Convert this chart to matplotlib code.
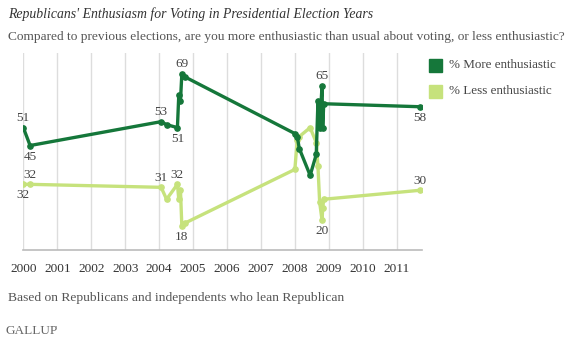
import matplotlib.pyplot as plt

# Survey dates (decimal years) and values
dates = [2000.0, 2000.2,
         2004.06, 2004.22, 2004.54, 2004.58, 2004.63, 2004.67, 2004.76,
         2008.0, 2008.07, 2008.13, 2008.45, 2008.63, 2008.68, 2008.73, 2008.8, 2008.82, 2008.85,
         2011.68]
more = [51, 45,
        53, 52, 51, 62, 60, 69, 68,
        49, 48, 44, 35, 42, 60, 51, 65, 51, 59,
        58]
less = [32, 32,
        31, 27, 32, 27, 30, 18, 19,
        37, 47, 48, 51, 46, 38, 26, 20, 24, 27,
        30]
years = list(range(2000, 2012))

# which points get a value label: (index, above?)
more_labels = [(0, True), (1, False), (2, True), (4, False), (7, True), (16, True), (19, False)]
less_labels = [(0, False), (1, True), (2, True), (4, True), (7, False), (16, False), (19, True)]

DARK = '#15773a'
LIGHT = '#c6e27c'
TXT = '#444444'
SERIF = ['Liberation Serif', 'DejaVu Serif']

fig = plt.figure(figsize=(5.7, 3.42), dpi=100)
ax = fig.add_axes([22.5 / 570, 92 / 342, 399.5 / 570, 197 / 342])

ax.plot(dates, less, color=LIGHT, lw=2.4, marker='o', ms=3.8, zorder=3)
ax.plot(dates, more, color=DARK, lw=2.4, marker='o', ms=3.8, zorder=4)

for i, up in more_labels:
    ax.annotate(str(more[i]), (dates[i], more[i]), xytext=(0, 7 if up else -8),
                textcoords='offset points', ha='center', va='center',
                fontsize=9.5, color=TXT, family=SERIF, zorder=5)
for i, up in less_labels:
    ax.annotate(str(less[i]), (dates[i], less[i]), xytext=(0, 7 if up else -8),
                textcoords='offset points', ha='center', va='center',
                fontsize=9.5, color=TXT, family=SERIF, zorder=5)

ax.set_xlim(2000 - 0.024, 2011.745)
ax.set_ylim(10, 76)
ax.set_xticks(years)
ax.set_xticklabels([str(y) for y in years], family=SERIF, fontsize=9.5, color='#333333')
ax.tick_params(axis='x', length=0, pad=9)
ax.set_yticks([])
for y in years:
    ax.axvline(y, color='#dddddd', lw=1, zorder=1)
for s in ['top', 'right', 'left']:
    ax.spines[s].set_visible(False)
ax.spines['bottom'].set_color('#bbbbbb')
ax.spines['bottom'].set_linewidth(1.2)

# legend
fig.patches.append(plt.Rectangle((429 / 570, 1 - 72 / 342), 13 / 570, 13 / 342,
                                 transform=fig.transFigure, color=DARK))
fig.patches.append(plt.Rectangle((429 / 570, 1 - 98 / 342), 13 / 570, 13 / 342,
                                 transform=fig.transFigure, color=LIGHT))
fig.text(449 / 570, 1 - 65 / 342, '% More enthusiastic', va='center', ha='left',
         fontsize=9.4, color=TXT, family=SERIF)
fig.text(449 / 570, 1 - 91 / 342, '% Less enthusiastic', va='center', ha='left',
         fontsize=9.4, color=TXT, family=SERIF)

fig.text(8 / 570, 1 - 14 / 342, "Republicans' Enthusiasm for Voting in Presidential Election Years",
         va='center', ha='left', fontsize=9.9, style='italic', color='#333333', family=SERIF)
fig.text(8 / 570, 1 - 37 / 342,
         'Compared to previous elections, are you more enthusiastic than usual about voting, or less enthusiastic?',
         va='center', ha='left', fontsize=9.6, color='#555555', family=SERIF)
fig.text(8 / 570, 1 - 298 / 342, 'Based on Republicans and independents who lean Republican',
         va='center', ha='left', fontsize=9.7, color='#555555', family=SERIF)
fig.text(6 / 570, 1 - 331 / 342, 'GALLUP', va='center', ha='left',
         fontsize=9.5, color='#666666', family=SERIF)
fig.text(56 / 570, 1 - 328 / 342, "'", va='center', ha='left',
         fontsize=5, color='#666666', family=SERIF)

fig.savefig('out.png', dpi=100)
